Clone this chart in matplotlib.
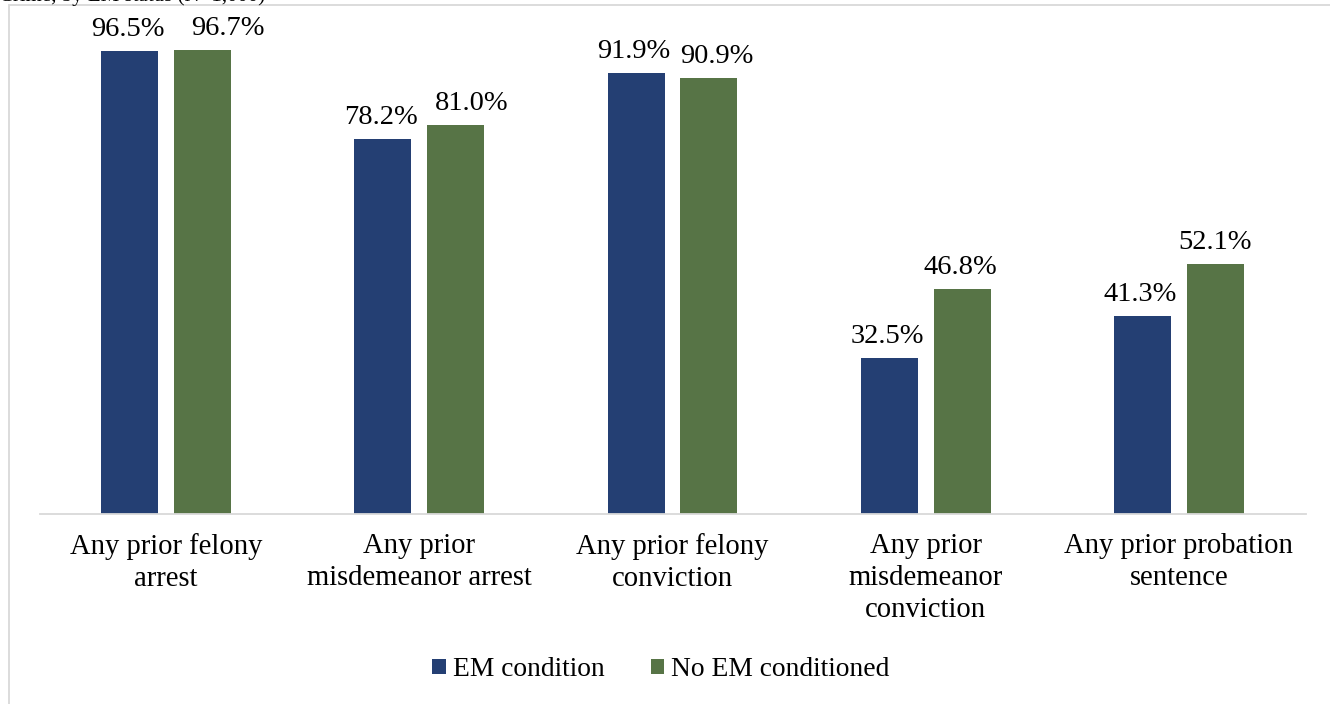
import numpy as np
import matplotlib.pyplot as plt
from matplotlib.patches import Rectangle

plt.rcParams['font.family'] = ['Liberation Serif', 'DejaVu Serif']

categories = ["Any prior felony\narrest",
              "Any prior\nmisdemeanor arrest",
              "Any prior felony\nconviction",
              "Any prior\nmisdemeanor\nconviction",
              "Any prior probation\nsentence"]
em_condition = [96.5, 78.2, 91.9, 32.5, 41.3]
no_em_condition = [96.7, 81.0, 90.9, 46.8, 52.1]

blue = '#243F73'
green = '#577446'

# sideways nudge (points) of the value labels so neighbours don't collide
em_nudge = [-1.5, -1.5, -1.5, -1.5, -1.5]
no_em_nudge = [18, 11.5, 5.4, -1.5, 0]

fig = plt.figure(figsize=(13.3, 7.04), dpi=100)
ax = fig.add_axes([0.0297, 0.2699, 0.9519, 0.6818])

x = np.arange(len(categories))
w = 0.225
off = 0.144
b1 = ax.bar(x - off, em_condition, w, color=blue, label='EM condition')
b2 = ax.bar(x + off, no_em_condition, w, color=green, label='No EM conditioned')

for bars, vals, nudge in ((b1, em_condition, em_nudge), (b2, no_em_condition, no_em_nudge)):
    for bar, v, dx in zip(bars, vals, nudge):
        ax.annotate(f'{v:.1f}%', (bar.get_x() + bar.get_width() / 2, v),
                    xytext=(dx, 6.5), textcoords='offset points',
                    ha='center', va='bottom', fontsize=20.5, annotation_clip=False)

ax.set_xlim(-0.5, len(categories) - 0.5)
ax.set_ylim(0, 100)
ax.set_xticks(x)
ax.set_xticklabels(categories, fontsize=20.6, linespacing=1.3)
ax.tick_params(axis='x', length=0, pad=14)
ax.set_yticks([])
for side in ('top', 'right', 'left'):
    ax.spines[side].set_visible(False)
ax.spines['bottom'].set_color('#D9D9D9')
ax.spines['bottom'].set_linewidth(1.3)

fig.legend(handles=[b1, b2], loc='center', bbox_to_anchor=(0.497, 0.049),
           ncol=2, frameon=False, fontsize=19.8, handlelength=0.48,
           handleheight=0.48, handletextpad=0.25, columnspacing=1.7)

# chart area border, partly outside the canvas
fig.patches.append(Rectangle((9 / 1330, -0.1), 1.2, 1 - 5 / 704 + 0.1,
                             transform=fig.transFigure, fill=False,
                             edgecolor='#D9D9D9', linewidth=1.3))

# caption running above the chart
fig.text(265 / 1330, 1 - 1 / 704, 'Crime, by EM status (N=1,000)',
         ha='right', va='baseline', fontsize=15)

fig.savefig('out.png', dpi=100)
